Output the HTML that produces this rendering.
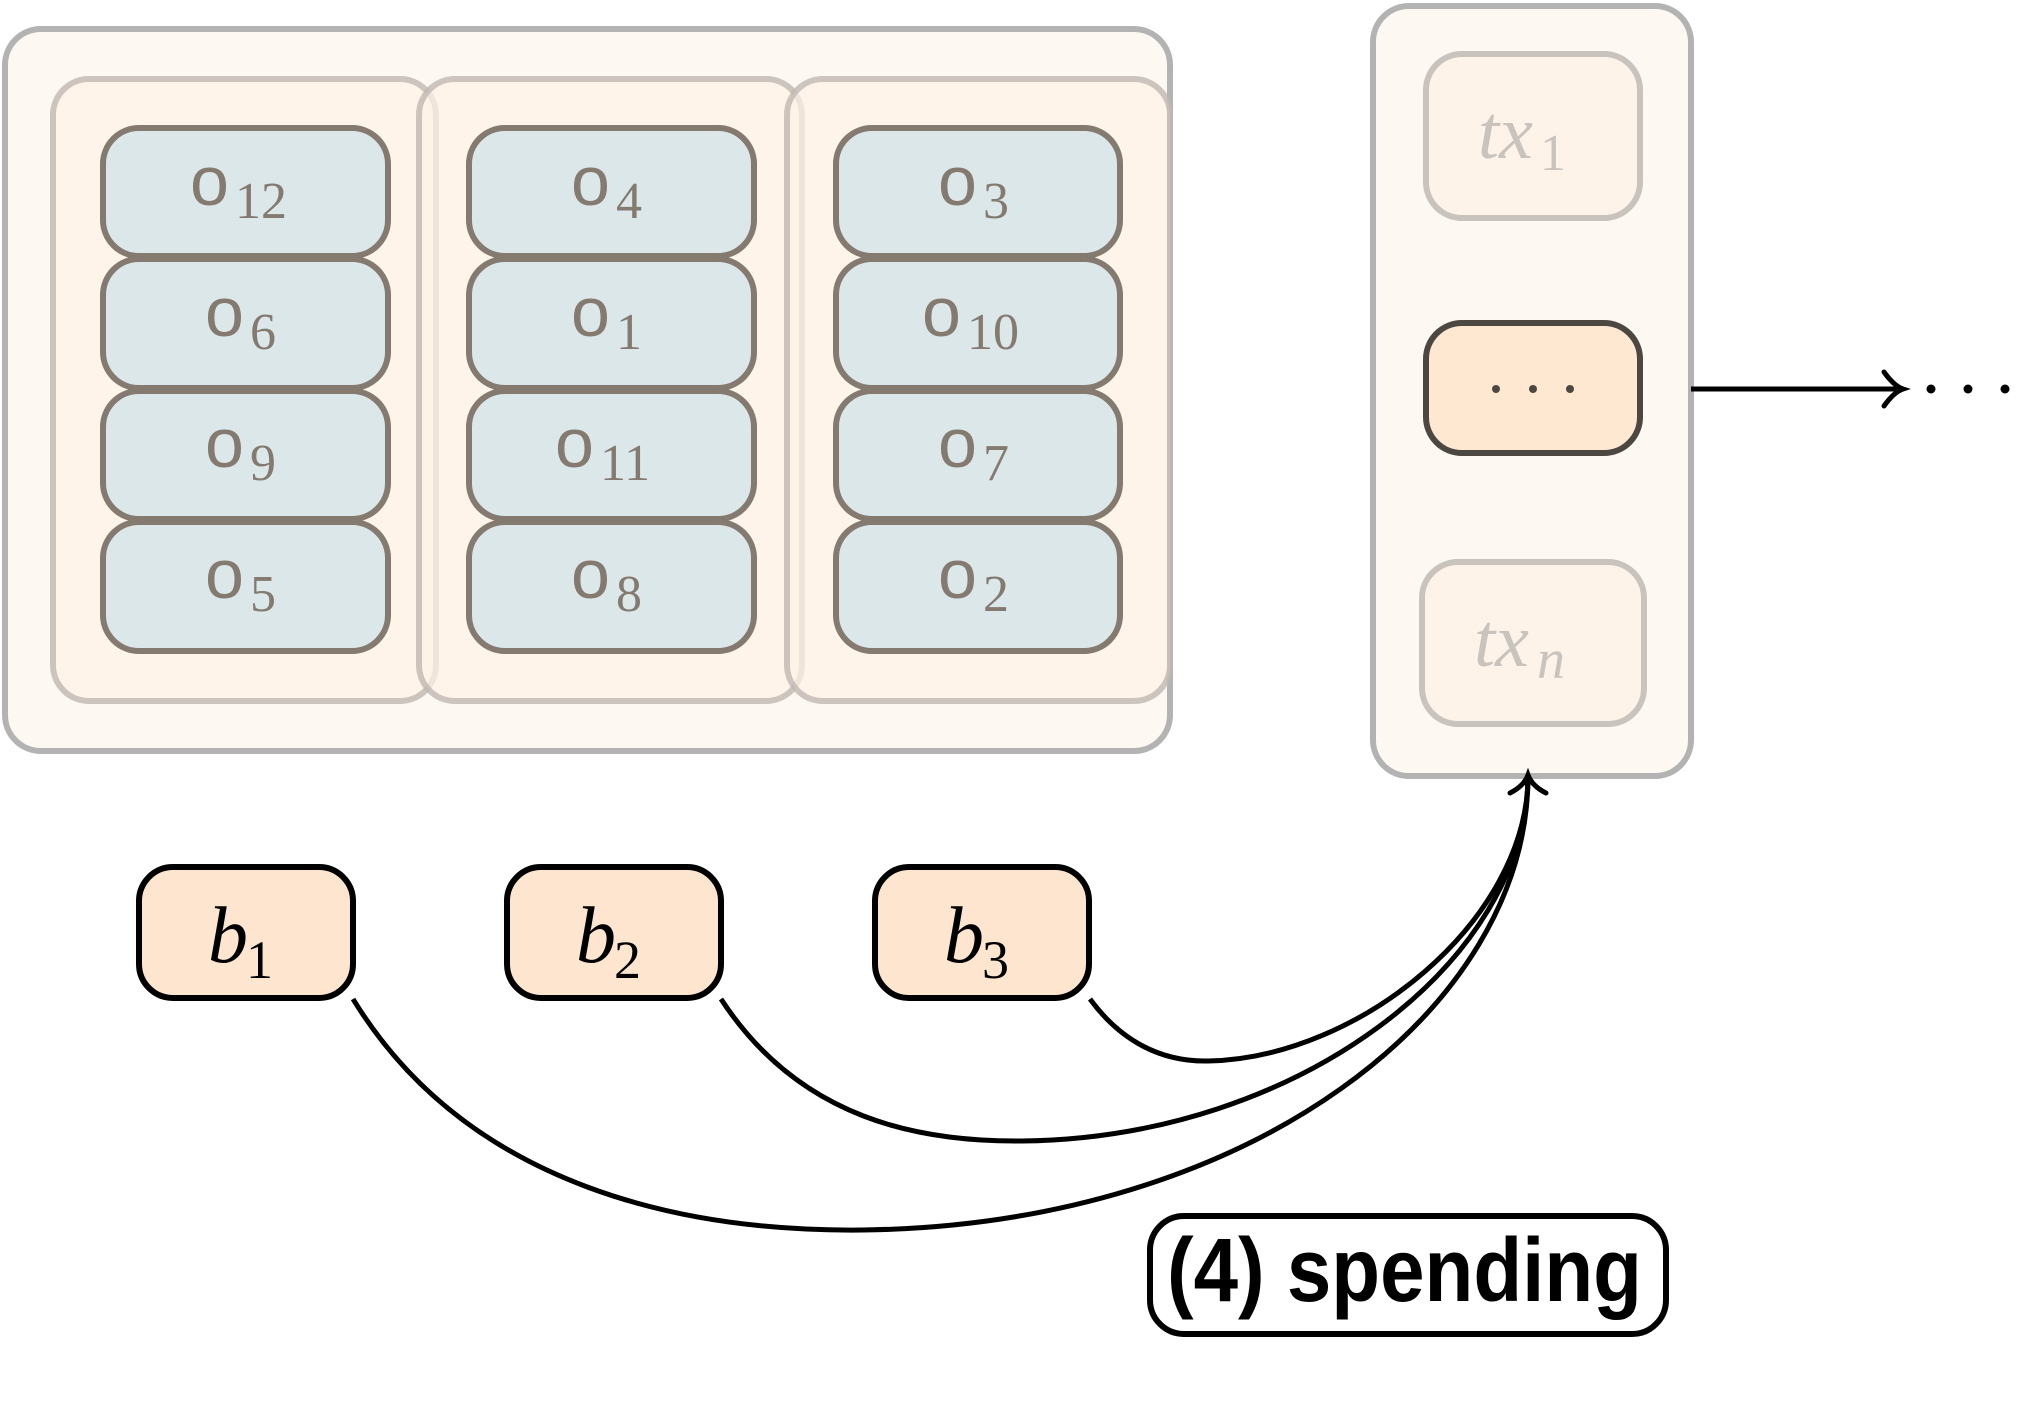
<!DOCTYPE html>
<html><head><meta charset="utf-8"><style>
html,body{margin:0;padding:0;background:#fff;}
svg{display:block}
.o{font-family:"Liberation Sans",sans-serif;font-size:70px;fill:#847a70}
.s{font-family:"Liberation Serif",serif;font-size:52px;fill:#847a70}
</style></head><body>
<svg width="2031" height="1401" viewBox="0 0 2031 1401" xmlns="http://www.w3.org/2000/svg">
<rect x="5" y="29" width="1165" height="722" rx="36" fill="#fdf8f2" stroke="#b3b3b3" stroke-width="6"/>
<g fill="#fdf2e6" fill-opacity="0.7" stroke="#bfb8b1" stroke-opacity="0.8" stroke-width="6">
<rect x="53" y="79" width="383" height="622" rx="36"/>
<rect x="419" y="79" width="383" height="622" rx="36"/>
<rect x="787" y="79" width="383" height="622" rx="36"/>
</g>
<g fill="#dce7ea" stroke="#847a70" stroke-width="6">
<rect x="103" y="128" width="285" height="128" rx="36"/>
<rect x="103" y="259" width="285" height="129" rx="36"/>
<rect x="103" y="391" width="285" height="128" rx="36"/>
<rect x="103" y="522" width="285" height="129" rx="36"/>
<rect x="469" y="128" width="285" height="128" rx="36"/>
<rect x="469" y="259" width="285" height="129" rx="36"/>
<rect x="469" y="391" width="285" height="128" rx="36"/>
<rect x="469" y="522" width="285" height="129" rx="36"/>
<rect x="836" y="128" width="284" height="128" rx="36"/>
<rect x="836" y="259" width="284" height="129" rx="36"/>
<rect x="836" y="391" width="284" height="128" rx="36"/>
<rect x="836" y="522" width="284" height="129" rx="36"/>
</g>
<g>
<text x="190" y="205" class="o">o</text><text x="235" y="218" class="s">12</text>
<text x="205" y="336" class="o">o</text><text x="250" y="349" class="s">6</text>
<text x="205" y="467" class="o">o</text><text x="250" y="480" class="s">9</text>
<text x="205" y="598" class="o">o</text><text x="250" y="611" class="s">5</text>
<text x="571" y="205" class="o">o</text><text x="616" y="218" class="s">4</text>
<text x="571" y="336" class="o">o</text><text x="616" y="349" class="s">1</text>
<text x="555" y="467" class="o">o</text><text x="600" y="480" class="s">11</text>
<text x="571" y="598" class="o">o</text><text x="616" y="611" class="s">8</text>
<text x="938" y="205" class="o">o</text><text x="983" y="218" class="s">3</text>
<text x="922" y="336" class="o">o</text><text x="967" y="349" class="s">10</text>
<text x="938" y="467" class="o">o</text><text x="983" y="480" class="s">7</text>
<text x="938" y="598" class="o">o</text><text x="983" y="611" class="s">2</text>
</g>
<rect x="1373" y="6" width="318" height="770" rx="36" fill="#fdf8f2" stroke="#b3b3b3" stroke-width="6"/>
<rect x="1426" y="54" width="214" height="164" rx="36" fill="#fdf3e8" stroke="#c8c3bd" stroke-width="6"/>
<text x="1478" y="158" font-family="Liberation Serif,serif" font-style="italic" font-size="76" fill="#c8c3bd">tx</text>
<text x="1540" y="170" font-family="Liberation Serif,serif" font-size="52" fill="#c8c3bd">1</text>
<rect x="1426" y="323" width="214" height="130" rx="36" fill="#fee8d2" stroke="#4d4741" stroke-width="6"/>
<circle cx="1496" cy="389" r="4" fill="#4d4741"/><circle cx="1533" cy="389" r="4" fill="#4d4741"/><circle cx="1570" cy="389" r="4" fill="#4d4741"/>
<rect x="1422" y="562" width="222" height="162" rx="36" fill="#fdf3e8" stroke="#c8c3bd" stroke-width="6"/>
<text x="1474" y="666" font-family="Liberation Serif,serif" font-style="italic" font-size="76" fill="#c8c3bd">tx</text>
<text x="1537" y="678" font-family="Liberation Serif,serif" font-style="italic" font-size="56" fill="#c8c3bd">n</text>
<line x1="1691" y1="389" x2="1900" y2="389" stroke="#000" stroke-width="5"/>
<path d="M1884 372 Q1894 386 1903 389 Q1894 392 1884 406" fill="none" stroke="#000" stroke-width="5" stroke-linecap="round"/>
<circle cx="1931" cy="389" r="4.5" fill="#000"/><circle cx="1968" cy="389" r="4.5" fill="#000"/><circle cx="2005" cy="389" r="4.5" fill="#000"/>
<g fill="#fee5cf" stroke="#000" stroke-width="6">
<rect x="139" y="867" width="214" height="131" rx="34"/>
<rect x="507" y="867" width="214" height="131" rx="34"/>
<rect x="875" y="867" width="214" height="131" rx="34"/>
</g>
<g font-family="Liberation Serif,serif">
<text x="208" y="962" font-style="italic" font-size="80">b</text><text x="246" y="978" font-size="54">1</text>
<text x="576" y="962" font-style="italic" font-size="80">b</text><text x="614" y="978" font-size="54">2</text>
<text x="944" y="962" font-style="italic" font-size="80">b</text><text x="982" y="978" font-size="54">3</text>
</g>
<g fill="none" stroke="#000" stroke-width="5">
<path d="M353 999 C470 1190 690 1232 863 1230 C1250 1225 1528 1010 1528 776"/>
<path d="M721 999 C800 1120 920 1142 1022 1141 C1300 1138 1528 960 1528 776"/>
<path d="M1090 999 C1120 1040 1160 1062 1208 1061 C1360 1058 1528 920 1528 776"/>
<path d="M1510 793 Q1524 786 1528 775 Q1532 786 1546 793" stroke-linecap="round"/>
</g>
<rect x="1150" y="1216" width="516" height="118" rx="34" fill="#fff" stroke="#000" stroke-width="6"/>
<text x="1167" y="1301" font-family="Liberation Sans,sans-serif" font-weight="bold" font-size="90" textLength="475" lengthAdjust="spacingAndGlyphs">(4) spending</text>
</svg>
</body></html>
